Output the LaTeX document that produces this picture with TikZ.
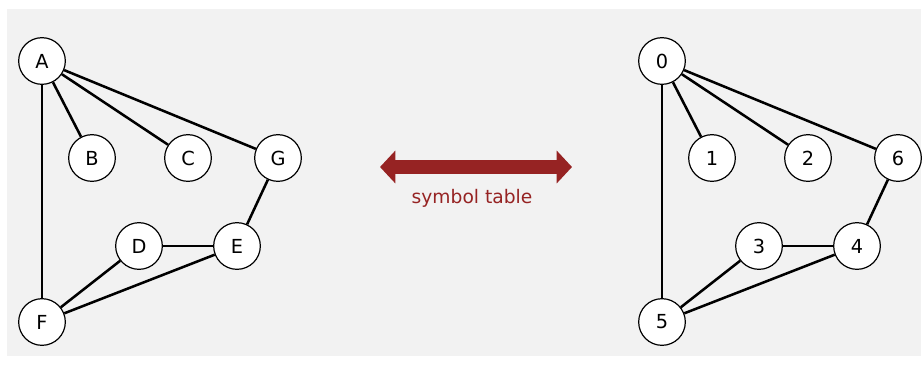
\documentclass[tikz,border=0pt]{standalone}
\usepackage{fontspec}
\setmainfont{DejaVu Sans}
\usetikzlibrary{arrows.meta}
\definecolor{bgray}{HTML}{F2F2F2}
\definecolor{stred}{RGB}{150,35,35}
\tikzset{
  vtx/.style={circle, draw=black, line width=0.9pt, fill=white, minimum size=35pt, inner sep=0pt, font=\fontsize{14.5}{16}\selectfont},
  edge/.style={line width=1.9pt, black},
  bigarrow/.style={draw=stred, line width=10pt, {Triangle[length=11.5pt,width=24pt]}-{Triangle[length=11.5pt,width=24pt]}}
}
\begin{document}
\begin{tikzpicture}[x=0.75pt,y=-0.75pt]
\useasboundingbox (0,0) rectangle (923,365);
\fill[bgray] (7,9) rectangle (921,356);
% left graph
\node[vtx] (A) at (42,61) {A};
\node[vtx] (B) at (92,158) {B};
\node[vtx] (C) at (188,158) {C};
\node[vtx] (G) at (278,158) {G};
\node[vtx] (D) at (139,246) {D};
\node[vtx] (E) at (237,246) {E};
\node[vtx] (F) at (42,322) {F};
\draw[edge] (A) -- (B);
\draw[edge] (A) -- (C);
\draw[edge] (A) -- (G);
\draw[edge] (A) -- (F);
\draw[edge] (G) -- (E);
\draw[edge] (D) -- (E);
\draw[edge] (D) -- (F);
\draw[edge] (E) -- (F);
% right graph
\node[vtx] (n0) at (662,61) {0};
\node[vtx] (n1) at (712,158) {1};
\node[vtx] (n2) at (808,158) {2};
\node[vtx] (n6) at (898,158) {6};
\node[vtx] (n3) at (759,246) {3};
\node[vtx] (n4) at (857,246) {4};
\node[vtx] (n5) at (662,322) {5};
\draw[edge] (n0) -- (n1);
\draw[edge] (n0) -- (n2);
\draw[edge] (n0) -- (n6);
\draw[edge] (n0) -- (n5);
\draw[edge] (n6) -- (n4);
\draw[edge] (n3) -- (n4);
\draw[edge] (n3) -- (n5);
\draw[edge] (n4) -- (n5);
% symbol table arrow
\coordinate (la) at (380,167);
\coordinate (ra) at (572,167);
\draw[bigarrow] (la) -- (ra);
\node[text=stred, font=\fontsize{14}{16}\selectfont] (st) at (472,198) {symbol table};
\end{tikzpicture}
\end{document}
